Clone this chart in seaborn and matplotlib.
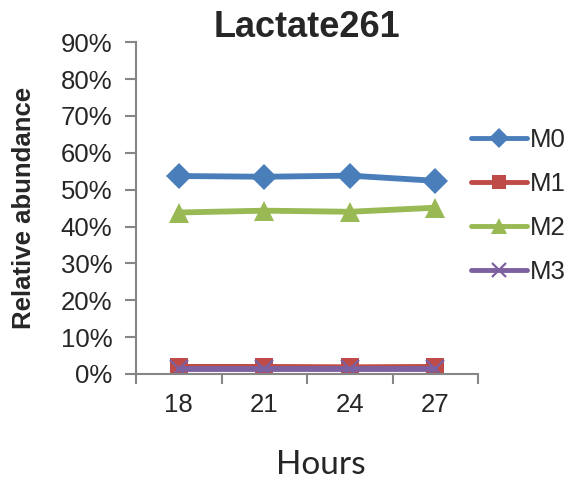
import matplotlib
matplotlib.use("Agg")
import matplotlib.pyplot as plt
import seaborn as sns
import pandas as pd
import numpy as np
from matplotlib.ticker import PercentFormatter, FixedLocator
from matplotlib.lines import Line2D

hours = ["18", "21", "24", "27"]
m0 = [53.7, 53.5, 53.8, 52.4]
m1 = [1.9, 1.9, 1.8, 1.9]
m2 = [43.8, 44.3, 44.0, 45.1]
m3 = [1.2, 1.2, 1.2, 1.2]
series = ["M0", "M1", "M2", "M3"]
colors = ["#4A7EBB", "#BE4B48", "#98B954", "#7D60A0"]
markers = ["D", "s", "^", "x"]

sns.set_style("white")
plt.rcParams["font.family"] = ["Liberation Sans", "DejaVu Sans"]

fig = plt.figure(figsize=(5.79, 4.8), dpi=100)
ax = fig.add_axes([0.235, 0.221, 0.591, 0.691])

def style_kw(mk, c):
    if mk == "x":
        return dict(marker=mk, markersize=13, markeredgewidth=1.6, markeredgecolor=c)
    size = {"D": 13, "s": 13, "^": 15}[mk]
    return dict(marker=mk, markersize=size, markeredgewidth=0)

handles = []
for name, vals, c, mk in zip(series, [m0, m1, m2, m3], colors, markers):
    d = pd.DataFrame({"Hours": hours, "value": vals})
    kw = style_kw(mk, c)
    sns.lineplot(data=d, x="Hours", y="value", color=c, linewidth=4.2,
                 ax=ax, sort=False, **kw)
    hk = dict(kw)
    hk["markersize"] = kw["markersize"] * 0.8
    handles.append(Line2D([], [], color=c, lw=3.5, solid_capstyle="round", **hk))

ax.set_xlim(-0.5, 3.5)
ax.set_ylim(0, 90)
ax.set_yticks(np.arange(0, 91, 10))
ax.yaxis.set_major_formatter(PercentFormatter(decimals=0))
ax.set_xticks(range(4))
ax.set_xticklabels(hours)
ax.xaxis.set_minor_locator(FixedLocator([-0.5, 0.5, 1.5, 2.5, 3.5]))
ax.tick_params(axis="x", which="major", length=0, labelsize=18.5, pad=14)
ax.tick_params(axis="x", which="minor", length=7, width=1.5, color="#868686", direction="out")
ax.tick_params(axis="y", length=8, width=1.5, color="#868686", direction="out", labelsize=18.5, pad=9)
ax.xaxis.set_tick_params(which="minor", bottom=True)
ax.yaxis.set_tick_params(left=True)
for s in ["top", "right"]:
    ax.spines[s].set_visible(False)
for s in ["left", "bottom"]:
    ax.spines[s].set_color("#868686")
    ax.spines[s].set_linewidth(1.5)

ax.set_title("Lactate261", fontsize=26, fontweight="bold", pad=4)
ax.set_ylabel("Relative abundance", fontsize=18.5, fontweight="bold")
ax.yaxis.set_label_coords(-0.292, 0.5)
ax.set_xlabel("Hours", fontsize=24, family=["Lato", "DejaVu Sans"], va="center")
ax.xaxis.set_label_coords(0.54, -0.275)

fig.legend(handles, series, loc="upper left", bbox_to_anchor=(0.813, 0.733),
           frameon=False, fontsize=18.5, handlelength=2.2, handletextpad=0.1,
           labelspacing=0.78, borderpad=0, borderaxespad=0)

fig.savefig("out.png", dpi=100, facecolor="white")
